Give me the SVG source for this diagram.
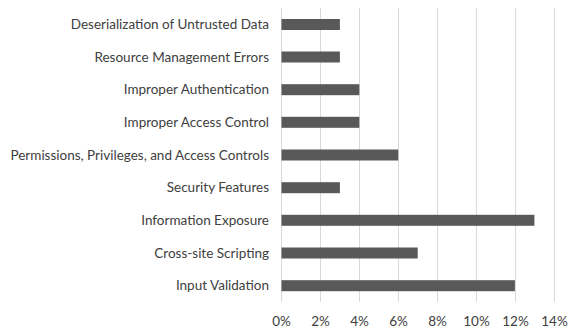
<svg xmlns="http://www.w3.org/2000/svg" width="569" height="328" viewBox="0 0 569 328">
<style>
.grid{stroke:#d9d9d9;stroke-width:1}
.bar{fill:#595959}
.lbl{font-family:Lato,"Liberation Sans",sans-serif;font-size:13.5px;fill:#404040;text-anchor:end}
.tick{font-family:Lato,"Liberation Sans",sans-serif;font-size:13.5px;fill:#404040;text-anchor:middle}
</style>
<rect width="569" height="328" fill="#fff"/>
<g id="grid">
<line class="grid" x1="281.5" y1="8" x2="281.5" y2="302"/>
<line class="grid" x1="320.5" y1="8" x2="320.5" y2="302"/>
<line class="grid" x1="359.5" y1="8" x2="359.5" y2="302"/>
<line class="grid" x1="398.5" y1="8" x2="398.5" y2="302"/>
<line class="grid" x1="437.5" y1="8" x2="437.5" y2="302"/>
<line class="grid" x1="476.5" y1="8" x2="476.5" y2="302"/>
<line class="grid" x1="515.5" y1="8" x2="515.5" y2="302"/>
<line class="grid" x1="554.5" y1="8" x2="554.5" y2="302"/>
</g>
<g id="bars">
<rect class="bar" x="281.5" y="19" width="58.4" height="11"/>
<rect class="bar" x="281.5" y="51.5" width="58.4" height="11"/>
<rect class="bar" x="281.5" y="84.2" width="77.8" height="11"/>
<rect class="bar" x="281.5" y="116.8" width="77.8" height="11"/>
<rect class="bar" x="281.5" y="149.5" width="116.7" height="11"/>
<rect class="bar" x="281.5" y="182.2" width="58.4" height="11"/>
<rect class="bar" x="281.5" y="214.8" width="252.9" height="11"/>
<rect class="bar" x="281.5" y="247.5" width="136.2" height="11"/>
<rect class="bar" x="281.5" y="280.2" width="233.4" height="11"/>
</g>
<g id="labels">
<text class="lbl" x="269" y="29">Deserialization of Untrusted Data</text>
<text class="lbl" x="269" y="61.7">Resource Management Errors</text>
<text class="lbl" x="269" y="94.4">Improper Authentication</text>
<text class="lbl" x="269" y="127">Improper Access Control</text>
<text class="lbl" x="269" y="159.7">Permissions, Privileges, and Access Controls</text>
<text class="lbl" x="269" y="192.4">Security Features</text>
<text class="lbl" x="269" y="225">Information Exposure</text>
<text class="lbl" x="269" y="257.7">Cross-site Scripting</text>
<text class="lbl" x="269" y="290.4">Input Validation</text>
</g>
<g id="axis">
<text class="tick" x="281.5" y="326">0%</text>
<text class="tick" x="320.5" y="326">2%</text>
<text class="tick" x="359.5" y="326">4%</text>
<text class="tick" x="398.5" y="326">6%</text>
<text class="tick" x="437.5" y="326">8%</text>
<text class="tick" x="476.5" y="326">10%</text>
<text class="tick" x="515.5" y="326">12%</text>
<text class="tick" x="554.5" y="326">14%</text>
</g>
</svg>
